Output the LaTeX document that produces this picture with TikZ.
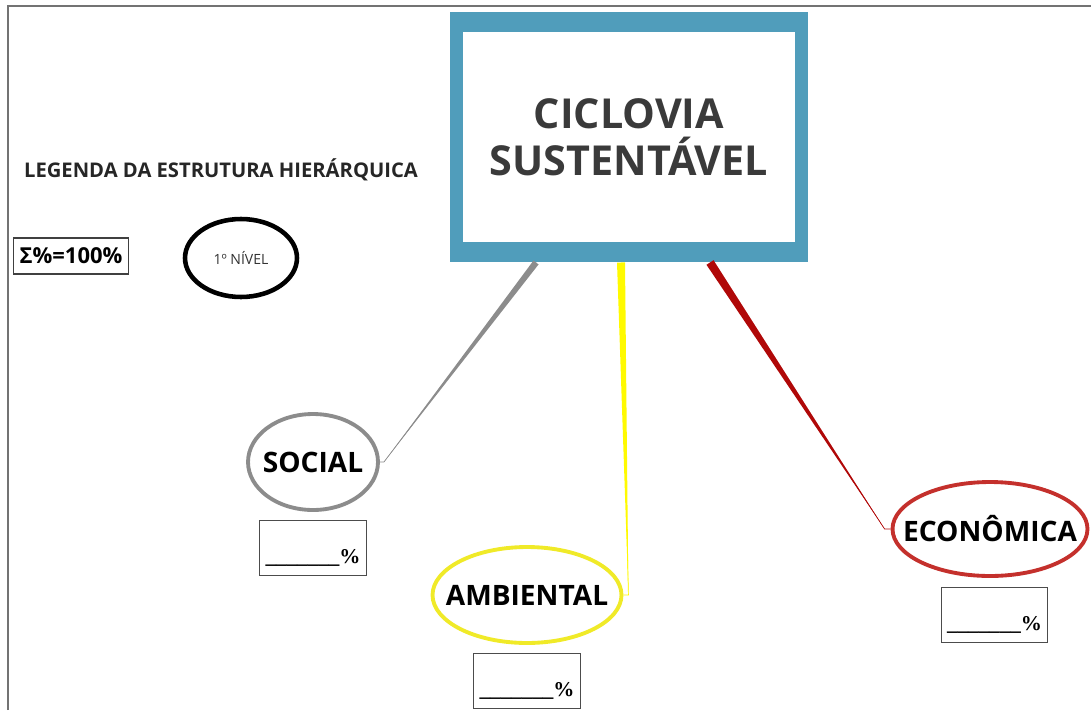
\documentclass[tikz,border=0pt]{standalone}
\usepackage{fontspec}
\setmainfont{Open Sans}
\newfontfamily\pctfont{Liberation Serif}
\usetikzlibrary{shapes.geometric,calc}
\definecolor{boxblue}{RGB}{80,157,187}
\definecolor{socgray}{RGB}{140,140,140}
\definecolor{ambyellow}{RGB}{240,234,40}
\definecolor{ecored}{RGB}{196,48,44}
\definecolor{linered}{RGB}{176,8,8}
\definecolor{lineyellow}{RGB}{255,250,0}
\definecolor{titletext}{RGB}{58,58,58}
\newcommand{\taper}[4]{\fill[#1] ($(#2)!#4!90:(#3)$) -- ($(#2)!#4!-90:(#3)$) -- (#3) -- cycle;}
\newcommand{\nowidth}[1]{\makebox[0pt]{#1}}

\begin{document}
\begin{tikzpicture}[x=0.02cm,y=-0.02cm,semithick,node distance=1.72cm]
\tikzstyle{topic}=[ellipse,line width=2.2pt,fill=white,inner sep=0pt,
  font=\bfseries\fontsize{16}{19}\selectfont]
\tikzstyle{pctbox}=[draw=black!70,line width=0.6pt,minimum width=2.1cm,
  text height=0.8cm,text depth=0.18cm,inner ysep=0.06cm,
  font=\pctfont\bfseries\fontsize{12}{14}\selectfont]
\useasboundingbox (0,0) rectangle (1091,710);
\draw[black!55] (8,710) -- (8,6) -- (1091,6);

\node (root) [fill=boxblue,minimum width=7.16cm,minimum height=5cm] at (629,137) {};
\node (title) [fill=white,minimum width=6.66cm,minimum height=4.22cm,align=center,
  text=titletext,font=\bfseries\fontsize{23.5}{27}\selectfont] at (root.center) {CICLOVIA\\SUSTENTÁVEL};

\node (legend) [font=\bfseries\fontsize{11.5}{14}\selectfont,text=black!85] at (221,170) {LEGENDA DA ESTRUTURA HIERÁRQUICA};
\node (sum) [draw=black!75,line width=0.6pt,minimum width=2.26cm,minimum height=0.72cm,
  font=\bfseries\fontsize{12.5}{15}\selectfont] at (71,256) {Σ\%=100\%};
\node (level) [ellipse,draw=black,line width=2.6pt,minimum width=2.24cm,minimum height=1.56cm,
  font=\fontsize{8}{9}\selectfont,text=black!80] at (241,258) {\nowidth{1º NÍVEL}};

\node (social) [topic,draw=socgray,minimum width=2.6cm,minimum height=1.92cm] at (313,462) {\nowidth{SOCIAL}};
\node (ambiental) [topic,draw=ambyellow,minimum width=3.78cm,minimum height=1.92cm] at (527,595) {\nowidth{AMBIENTAL}};
\node (economica) [topic,draw=ecored,minimum width=3.9cm,minimum height=1.88cm] at (990,529) {\nowidth{ECONÔMICA}};

\node (socpct) [pctbox,below of=social] {\_\_\_\_\_\_\_\%};
\node (ambpct) [pctbox,below of=ambiental] {\_\_\_\_\_\_\_\%};
\node (ecopct) [pctbox,below of=economica,xshift=0.09cm] {\_\_\_\_\_\_\_\%};

\coordinate (socTop) at ($(root.south)+(-93,0)$);
\coordinate (ambTop) at ($(root.south)+(-8,0)$);
\coordinate (ecoTop) at ($(root.south)+(81,0)$);
\coordinate (socEnd) at ($(social.east)+(4,0)$);
\coordinate (ambEnd) at ($(ambiental.east)+(5,0)$);
\coordinate (ecoEnd) at ($(economica.west)+(-6,0)$);

\taper{socgray}{socTop}{socEnd}{0.064cm}
\taper{lineyellow}{ambTop}{ambEnd}{0.08cm}
\taper{linered}{ecoTop}{ecoEnd}{0.084cm}
\draw[socgray,thin] (socTop) -- (socEnd) -- (social.east);
\draw[lineyellow,thin] (ambTop) -- (ambEnd) -- (ambiental.east);
\draw[linered,thin] (ecoTop) -- (ecoEnd) -- (economica.west);
\end{tikzpicture}
\end{document}
